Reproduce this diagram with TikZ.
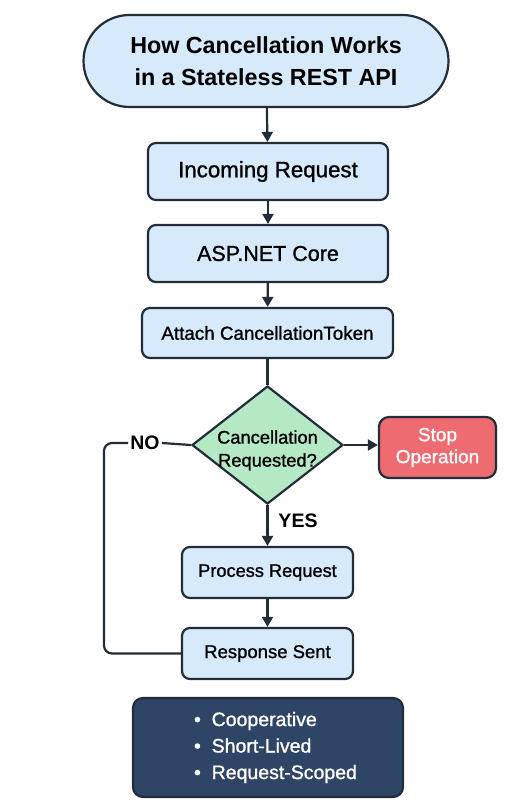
\documentclass[tikz,border=0pt]{standalone}
\usepackage{fontspec}
\setmainfont{Liberation Sans}
\newfontfamily\semifont[FakeBold=1.1]{Liberation Sans}
\usetikzlibrary{shapes.geometric,arrows.meta}

\definecolor{boxblue}{HTML}{D7EAFB}
\definecolor{edgeink}{HTML}{232D3A}
\definecolor{askgreen}{HTML}{B5E8C5}
\definecolor{stopred}{HTML}{EE6B72}
\definecolor{notenavy}{HTML}{2E4566}

\tikzset{
  stepbox/.style={draw=edgeink, fill=boxblue, line width=2.2pt, rounded corners=8pt,
    inner sep=0pt, align=center},
  flow/.style={draw=edgeink, line width=2.2pt, -{Triangle[length=10pt,width=11pt]}},
  link/.style={draw=edgeink, line width=2.2pt},
  tag/.style={font=\bfseries\fontsize{19.5}{22}\selectfont, text=black, inner sep=2pt}
}

\begin{document}
\begin{tikzpicture}[x=1pt,y=-1pt]
\useasboundingbox[fill=white] (0,0) rectangle (530,805);

\node [stepbox, rounded corners=46pt, minimum width=365pt, minimum height=92pt,
  font=\bfseries\fontsize{23.3}{32}\selectfont] (title) at (266,61)
  {How Cancellation Works\\in a Stateless REST API};
\node [stepbox, minimum width=240pt, minimum height=57pt, font=\semifont\fontsize{22.3}{26}\selectfont]
  (incoming) at (268,171.5) {Incoming Request};
\node [stepbox, minimum width=240pt, minimum height=57pt, font=\semifont\fontsize{21.5}{26}\selectfont]
  (aspnet) at (268,253.5) {ASP.NET Core};
\node [stepbox, minimum width=251pt, minimum height=50pt, font=\semifont\fontsize{18.8}{22}\selectfont]
  (token) at (267.5,333) {Attach CancellationToken};
\node [diamond, draw=edgeink, fill=askgreen, line width=2.2pt, inner sep=-6pt, aspect=1.28,
  minimum width=151pt, minimum height=118pt, align=center, font=\semifont\fontsize{18.3}{23}\selectfont]
  (ask) at (267.5,445) {\rule{0pt}{24pt}Cancellation\\Requested?};
\node [stepbox, fill=stopred, text=white, rounded corners=10pt, minimum width=117pt,
  minimum height=61pt, font=\semifont\fontsize{19}{22}\selectfont] (stop) at (437.5,447.5) {Stop\\Operation};
\node [stepbox, minimum width=171pt, minimum height=51pt, font=\semifont\fontsize{18.2}{22}\selectfont]
  (process) at (267.5,572.5) {Process Request};
\node [stepbox, minimum width=171pt, minimum height=51pt, font=\semifont\fontsize{18.5}{22}\selectfont]
  (response) at (267.5,653.5) {Response Sent};
\node [stepbox, fill=notenavy, text=white, rounded corners=10pt, minimum width=270pt,
  minimum height=99pt, align=left, font=\semifont\fontsize{19.5}{26.5}\selectfont]
  (notes) at (268,747.5)
  {\hspace*{15pt}\textbullet\ \ Cooperative\\\hspace*{15pt}\textbullet\ \ Short-Lived\\\hspace*{15pt}\textbullet\ \ Request-Scoped};

\node [tag] (no) at (145,443) {NO};
\node [tag] (yes) at (298,521) {YES};
\coordinate (loop) at (104,550);

\draw [flow] (title) -- (incoming);
\draw [flow] (incoming) -- (aspnet);
\draw [flow] (aspnet) -- (token);
\draw [link] (token) -- (ask);
\draw [flow] (ask.east) -- (stop.west |- ask.east);
\draw [flow] (ask) -- (process);
\draw [flow] (process) -- (response);
\draw [link] (ask.west) -- (no.east);
\draw [link, rounded corners=8pt] (no.west) -- (no.west -| loop) -- (loop |- response.west) -- (response.west);
\end{tikzpicture}
\end{document}
